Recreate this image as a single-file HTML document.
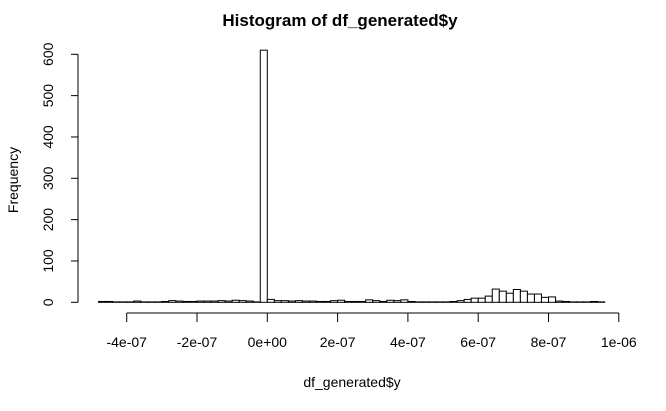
<!DOCTYPE html>
<html><head><meta charset="utf-8"><style>
html,body{margin:0;padding:0;background:#fff;}
svg{display:block;font-family:"Liberation Sans",Arial,sans-serif;}
</style></head><body>
<svg id="chart" width="666" height="411" viewBox="0 0 666 411">
<text x="340" y="26" text-anchor="middle" font-size="17" font-weight="bold">Histogram of df_generated$y</text>
<text x="352" y="387" text-anchor="middle" font-size="14">df_generated$y</text>
<text transform="translate(18,180) rotate(-90)" text-anchor="middle" font-size="14">Frequency</text>
<g id="bars"></g>
<g id="xaxis"></g>
<g id="yaxis"></g>
</svg>
<script>
const binStart = -4.8e-7;
const binWidth = 2e-8;
const counts = [2,2,1,1,1,3,1,1,1,2,4,3,2,2,3,3,3,4,3,5,4,3,1,610,
7,4,4,3,4,3,3,2,2,4,5,2,2,2,6,4,2,5,4,6,2,1,1,1,
1,1,2,4,7,10,10,15,32,27,22,31,27,20,20,12,13,3,2,1,1,1,2,1];
const xTicks = [-4e-7,-2e-7,0,2e-7,4e-7,6e-7,8e-7,1e-6];
const xTickLabels = ["-4e-07","-2e-07","0e+00","2e-07","4e-07","6e-07","8e-07","1e-06"];
const yTicks = [0,100,200,300,400,500,600];

const NS="http://www.w3.org/2000/svg";
function sx(v){return 267.3 + v/1e-7*35.15;}
function sy(c){return 302.3 - c*(248/600);}
function mk(tag,attrs,parent){const e=document.createElementNS(NS,tag);for(const k in attrs)e.setAttribute(k,attrs[k]);parent.appendChild(e);return e;}

const bars=document.getElementById('bars');
counts.forEach((c,i)=>{
  const x0=sx(binStart+i*binWidth), x1=sx(binStart+(i+1)*binWidth);
  const r=mk('rect',{x:x0,y:sy(c),width:x1-x0,height:sy(0)-sy(c),fill:'#fff',stroke:'#000','stroke-width':1},bars);
  
  
});

const xa=document.getElementById('xaxis');
mk('line',{x1:sx(xTicks[0]),x2:sx(xTicks[xTicks.length-1]),y1:313,y2:313,stroke:'#000'},xa);
xTicks.forEach((t,i)=>{
  mk('line',{x1:sx(t),x2:sx(t),y1:313,y2:322,stroke:'#000'},xa);
  const tx=mk('text',{x:sx(t),y:347,'text-anchor':'middle','font-size':14},xa);
  tx.textContent=xTickLabels[i];
  
  
});

const ya=document.getElementById('yaxis');
mk('line',{x1:78,x2:78,y1:sy(0),y2:sy(600),stroke:'#000'},ya);
yTicks.forEach(t=>{
  mk('line',{x1:71,x2:78,y1:sy(t),y2:sy(t),stroke:'#000'},ya);
  const tx=mk('text',{transform:`translate(53,${sy(t)}) rotate(-90)`,'text-anchor':'middle','font-size':14},ya);
  tx.textContent=String(t);
  
  
});
</script>
</body></html>
